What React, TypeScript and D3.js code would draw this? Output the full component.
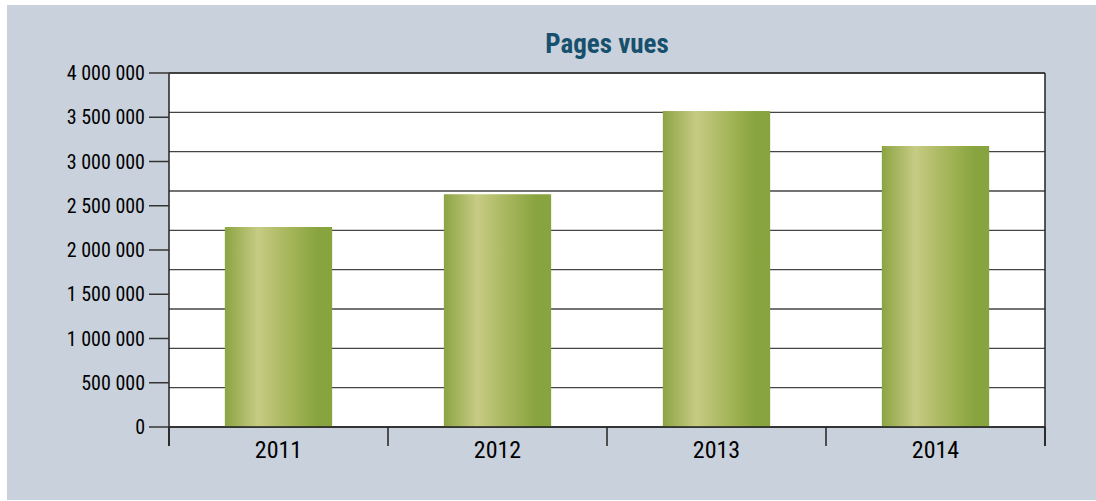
import React from "react";
import * as d3 from "d3";

const years = ["2011", "2012", "2013", "2014"];
const pageViews = [2260000, 2630000, 3570000, 3175000];
const yTicks = [0, 500000, 1000000, 1500000, 2000000, 2500000, 3000000, 3500000, 4000000];
const gridSteps = [0, 1, 2, 3, 4, 5, 6, 7, 8, 9];
const title = "Pages vues";

const W = 1096;
const H = 501;
const plot = { left: 169, right: 1045, top: 73, bottom: 427 };
const FONT = "'Liberation Sans Narrow', 'Arial Narrow', 'Roboto Condensed', 'Liberation Sans', sans-serif";

const fmt = (v: number) => d3.format(",")(v).replace(/,/g, " ");

export default function App() {
  const x = d3.scaleBand<string>().domain(years).range([plot.left, plot.right]).paddingInner(0.51).paddingOuter(0.255);
  const y = d3.scaleLinear().domain([0, 4000000]).range([plot.bottom, plot.top]);
  const g = d3.scaleLinear().domain([0, 9]).range([plot.bottom, plot.top]);
  const bandX = d3.scaleBand<string>().domain(years).range([plot.left, plot.right]);
  const xBoundaries = [...years.map((yr) => bandX(yr) as number), plot.right];

  return (
    <svg width={W} height={H} style={{ position: "absolute", left: 0, top: 0, display: "block" }}>
      <defs>
        <linearGradient id="barGrad" x1="0" x2="1" y1="0" y2="0">
          <stop offset="0" stopColor="#8ba443" />
          <stop offset="0.31" stopColor="#c7cb84" />
          <stop offset="0.6" stopColor="#a6b65b" />
          <stop offset="0.86" stopColor="#88a43f" />
          <stop offset="1" stopColor="#88a43f" />
        </linearGradient>
      </defs>
      <rect x={7} y={5} width={W - 7} height={495} fill="#c9d1dc" />
      <rect x={plot.left} y={plot.top} width={plot.right - plot.left} height={plot.bottom - plot.top} fill="#ffffff" />
      {gridSteps.map((s) => (
        <line key={s} x1={plot.left} x2={plot.right} y1={g(s)} y2={g(s)} stroke="#444" strokeWidth={1.3} />
      ))}
      {years.map((yr, i) => (
        <rect
          key={yr}
          x={x(yr)}
          width={x.bandwidth()}
          y={y(pageViews[i])}
          height={y(0) - y(pageViews[i])}
          fill="url(#barGrad)"
        />
      ))}
      <line x1={plot.left} x2={plot.left} y1={plot.top} y2={plot.bottom + 19} stroke="#222" strokeWidth={1.5} />
      <line x1={plot.right} x2={plot.right} y1={plot.top} y2={plot.bottom + 19} stroke="#222" strokeWidth={1.5} />
      <line x1={plot.left} x2={plot.right} y1={plot.top} y2={plot.top} stroke="#333" strokeWidth={1.5} />
      <line x1={plot.left} x2={plot.right} y1={plot.bottom} y2={plot.bottom} stroke="#222" strokeWidth={1.5} />
      {xBoundaries.map((bx, i) => (
        <line key={i} x1={bx} x2={bx} y1={plot.bottom} y2={plot.bottom + 19} stroke="#222" strokeWidth={1.5} />
      ))}
      {yTicks.map((t) => (
        <g key={t}>
          <line x1={plot.left - 20} x2={plot.left} y1={y(t)} y2={y(t)} stroke="#333" strokeWidth={1.5} />
          <text x={145} y={y(t)} dy="0.35em" textAnchor="end" fontFamily={FONT} fontSize={20} fill="#000">
            {fmt(t)}
          </text>
        </g>
      ))}
      {years.map((yr) => (
        <text
          key={yr}
          x={(x(yr) as number) + x.bandwidth() / 2}
          y={458}
          textAnchor="middle"
          fontFamily={FONT}
          fontSize={24}
          fill="#000"
        >
          {yr}
        </text>
      ))}
      <text
        x={(plot.left + plot.right) / 2}
        y={53}
        textAnchor="middle"
        fontFamily={FONT}
        fontWeight="bold"
        fontSize={27}
        fill="#17506c"
      >
        {title}
      </text>
    </svg>
  );
}
